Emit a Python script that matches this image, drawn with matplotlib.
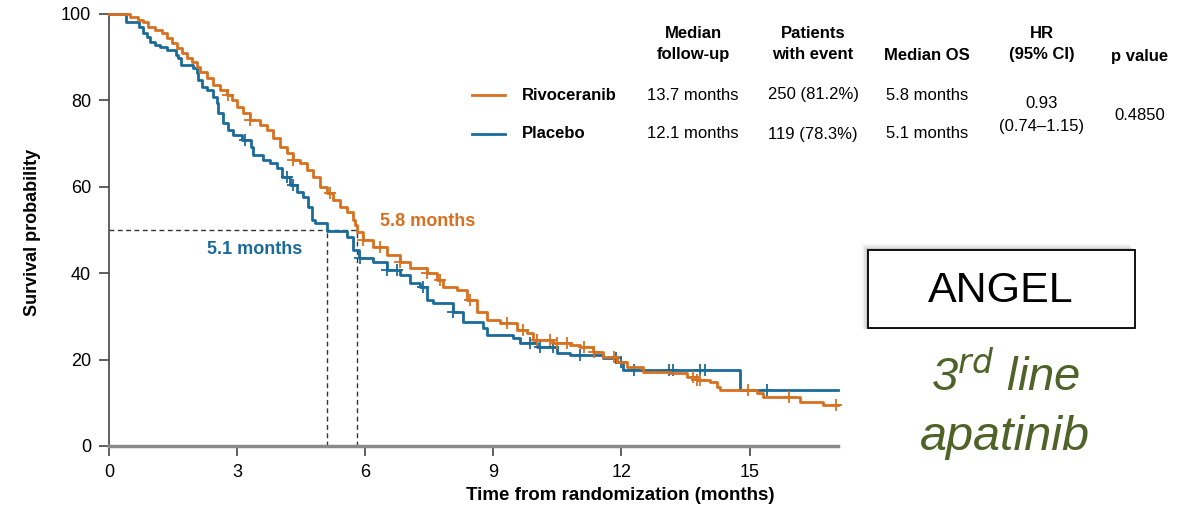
import matplotlib
matplotlib.use("Agg")
import matplotlib.pyplot as plt
import numpy as np
from matplotlib.patches import Rectangle
import warnings
warnings.filterwarnings("ignore")

plt.rcParams['font.family'] = ['Liberation Sans Narrow', 'Liberation Sans', 'DejaVu Sans']

# ---------------- data ----------------
riv_t = [0, 0.50, 0.68, 0.80, 0.91, 1.08, 1.24, 1.36, 1.48, 1.59, 1.71, 1.83, 1.94, 2.06, 2.13,
         2.30, 2.44, 2.60, 2.76, 2.88, 3.00, 3.14, 3.30, 3.54, 3.70, 3.84, 4.00, 4.17, 4.31, 4.47,
         4.64, 4.78, 4.94, 5.11, 5.25, 5.41, 5.57, 5.71, 5.77, 5.81, 5.95, 6.18, 6.51, 6.81, 7.05,
         7.45, 7.68, 7.82, 8.15, 8.38, 8.62, 8.85, 9.16, 9.56, 9.79, 9.93, 10.40, 10.80, 11.03,
         11.33, 11.57, 11.90, 12.13, 12.51, 13.14, 13.54, 13.77, 14.07, 14.24, 14.31, 15.18, 15.32,
         16.18, 16.72, 17.07]
riv_s = [100, 99.3, 98.5, 98.1, 97.0, 96.3, 95.6, 94.4, 93.3, 92.1, 91.0, 89.8, 88.9, 87.7, 86.6,
         85.2, 83.6, 82.4, 81.3, 80.1, 78.5, 77.1, 75.5, 74.3, 73.1, 71.3, 69.2, 67.8, 66.2, 65.5,
         63.9, 62.3, 60.0, 58.6, 56.9, 55.3, 54.2, 52.4, 51.2, 49.5, 47.7, 46.1, 44.2, 42.6, 41.2,
         40.0, 38.4, 36.8, 36.1, 33.8, 31.0, 29.2, 28.5, 26.9, 26.2, 24.5, 23.8, 23.4, 22.9,
         21.8, 20.6, 19.4, 18.3, 17.1, 16.9, 16.0, 15.3, 14.8, 13.7, 13.0, 12.3, 11.3,
         10.2, 9.5, 9.5]
riv_cens = [2.79, 3.30, 4.31, 5.18, 5.95, 6.35, 6.81, 7.45, 7.75, 8.45, 9.32, 9.70, 10.02, 10.33,
            10.49, 10.73, 11.12, 11.36, 11.83, 13.68, 13.77, 13.84, 14.96, 15.93, 17.03]

pla_t = [0, 0.40, 0.70, 0.80, 0.90, 0.96, 1.08, 1.20, 1.36, 1.57, 1.62, 1.68, 1.97, 2.06, 2.08,
         2.18, 2.30, 2.44, 2.52, 2.55, 2.67, 2.79, 2.90, 3.12, 3.33, 3.37, 3.61, 3.77, 3.93, 4.05,
         4.24, 4.40, 4.54, 4.66, 4.75, 4.82, 5.10, 5.57, 5.71, 5.85, 6.18, 6.51, 6.81, 7.05, 7.28,
         7.45, 7.59, 8.06, 8.29, 8.76, 8.85, 9.46, 9.63, 10.02, 10.49, 10.80, 11.57, 11.90, 12.04,
         14.78, 17.07]
pla_s = [100, 98.1, 97.0, 95.6, 94.7, 93.5, 92.8, 92.4, 91.7, 90.5, 89.8, 88.2, 87.5, 86.3, 84.7,
         83.1, 82.4, 80.8, 79.4, 77.1, 74.8, 73.1, 72.0, 70.8, 69.2, 67.4, 66.2, 65.5, 64.4, 62.3,
         60.4, 58.8, 57.6, 55.3, 52.3, 51.6, 49.8, 48.4, 45.4, 43.5, 42.6, 40.7, 39.6, 37.7, 36.8,
         33.8, 33.1, 31.0, 28.7, 27.3, 25.7, 25.0, 23.8, 22.9, 21.5, 21.1, 20.4, 19.4, 17.6,
         13.0, 13.0]
pla_cens = [3.19, 4.17, 4.31, 5.88, 6.51, 6.74, 7.35, 8.06, 9.86, 10.09, 10.40, 11.03, 11.87,
            11.99, 12.30, 13.11, 13.21, 13.84, 13.96, 15.41]

medians = [5.1, 5.8]
x_ticks = [0, 3, 6, 9, 12, 15]
y_ticks = [0, 20, 40, 60, 80, 100]

col_headers = ["Median\nfollow-up", "Patients\nwith event", "Median OS", "HR\n(95% CI)", "p value"]
groups = ["Rivoceranib", "Placebo"]
followup = ["13.7 months", "12.1 months"]
events = ["250 (81.2%)", "119 (78.3%)"]
median_os = ["5.8 months", "5.1 months"]
hr_text = "0.93\n(0.74\u20131.15)"
p_text = "0.4850"

ORANGE = "#D8701F"
BLUE = "#1B6B99"
GREEN = "#4F6228"

W, H = 1181, 508
fig = plt.figure(figsize=(W / 100, H / 100), dpi=100)

def fx(x):
    return x / W

def fy(y):
    return 1 - y / H

ax = fig.add_axes([fx(109), fy(446), fx(838) - fx(109), fy(14) - fy(446)])
ax.set_xlim(0, 17.07)
ax.set_ylim(0, 100)

def step_val(ts, ss, c):
    i = np.searchsorted(ts, c, side="right") - 1
    return ss[i]

for ts, ss, cens, col in [(pla_t, pla_s, pla_cens, BLUE), (riv_t, riv_s, riv_cens, ORANGE)]:
    ax.plot(ts, ss, drawstyle="steps-post", color=col, lw=2.0, clip_on=False, zorder=3)
    cy = [step_val(np.array(ts), np.array(ss), c) for c in cens]
    ax.plot(cens, cy, ls="none", marker="+", ms=9, mew=1.3, color=col, clip_on=False, zorder=3)

# median dashed lines
ax.plot([0, medians[1]], [50, 50], ls=(0, (3.5, 2.5)), color="#333333", lw=1.0, zorder=2)
for m in medians:
    ax.plot([m, m], [0, 50], ls=(0, (3.5, 2.5)), color="#333333", lw=1.0, zorder=2)

ax.text(7.47, 52.0, "5.8 months", color=ORANGE, fontsize=13, fontweight="bold", ha="center", va="center")
ax.text(3.42, 45.4, "5.1 months", color=BLUE, fontsize=13, fontweight="bold", ha="center", va="center")

for s in ["top", "right"]:
    ax.spines[s].set_visible(False)
ax.spines["left"].set_color("#444444")
ax.spines["left"].set_linewidth(1.2)
ax.spines["bottom"].set_color("#8a8a8a")
ax.spines["bottom"].set_linewidth(2.5)
ax.set_xticks(x_ticks)
ax.set_yticks(y_ticks)
ax.tick_params(axis="both", direction="out", length=7, width=1.2, color="#444444",
               labelsize=13, pad=6)

fig.text(fx(33), fy(232), "Survival probability", rotation=90, ha="center", va="center",
         fontsize=13, fontweight="bold")
fig.text(fx(620), fy(495), "Time from randomization (months)", ha="center", va="center",
         fontsize=13.5, fontweight="bold")

# table
hx = [693, 813, 927, 1042, 1140]
hy = [44, 44, 56, 44, 56]
for x, y, t in zip(hx, hy, col_headers):
    fig.text(fx(x), fy(y), t, ha="center", va="center", fontsize=12, fontweight="bold",
             linespacing=1.45)

row_y = [95, 134]
line_cols = [ORANGE, BLUE]
for i in range(2):
    y = row_y[i]
    fig.add_artist(plt.Line2D([fx(472), fx(505)], [fy(y), fy(y)], color=line_cols[i], lw=2))
    fig.text(fx(522), fy(y), groups[i], ha="left", va="center", fontsize=12, fontweight="bold")
    fig.text(fx(693), fy(y), followup[i], ha="center", va="center", fontsize=12)
    fig.text(fx(813), fy(y), events[i], ha="center", va="center", fontsize=12)
    fig.text(fx(927), fy(y), median_os[i], ha="center", va="center", fontsize=12)
fig.text(fx(1042), fy(115), hr_text, ha="center", va="center", fontsize=12, linespacing=1.75)
fig.text(fx(1140), fy(116), p_text, ha="center", va="center", fontsize=12)

# ANGEL box with shadow
for k, a in enumerate([0.08, 0.14, 0.22]):
    off = 6 - k * 2
    fig.add_artist(Rectangle((fx(868 - off), fy(329)), fx(1135) - fx(868),
                             fy(250 - off) - fy(329),
                             facecolor="#777777", edgecolor="none", alpha=a, zorder=4))
fig.add_artist(Rectangle((fx(868), fy(328)), fx(1135) - fx(868), fy(250) - fy(328),
                         facecolor="white", edgecolor="black", lw=1.3, zorder=5))
fig.text(fx(1001), fy(291), "ANGEL", ha="center", va="center", fontsize=31,
         family=["Liberation Sans", "DejaVu Sans"], zorder=6)
fig.text(fx(1006), fy(376), r"3$^{rd}$ line", ha="center", va="center", fontsize=34,
         color=GREEN, style="italic", family=["Liberation Sans", "DejaVu Sans"])
fig.text(fx(1005), fy(437), "apatinib", ha="center", va="center", fontsize=35,
         color=GREEN, style="italic", family=["Liberation Sans", "DejaVu Sans"])

fig.savefig("out.png", dpi=100)
